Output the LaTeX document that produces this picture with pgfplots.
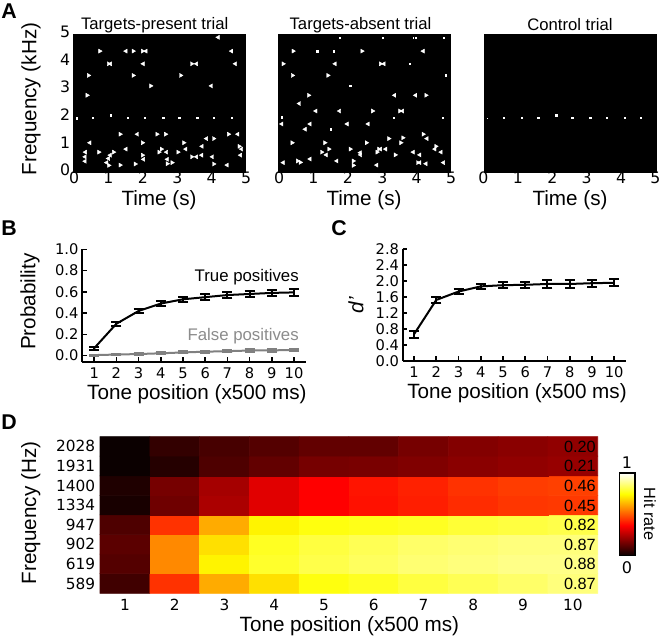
\documentclass[border=0pt]{standalone}
\usepackage{fontspec}
\setmainfont{Liberation Sans}
\newfontfamily\dv{DejaVu Sans}
\usepackage{pgfplots}
\usepackage{pgfplotstable}
\pgfplotsset{compat=1.18}
\pgfplotstableread{
x y v
1 1 .08
2 1 .44
3 1 .62
4 1 .70
5 1 .76
6 1 .78
7 1 .81
8 1 .83
9 1 .85
10 1 .87
1 2 .11
2 2 .57
3 2 .73
4 2 .79
5 2 .82
6 2 .84
7 2 .86
8 2 .87
9 2 .88
10 2 .88
1 3 .12
2 3 .57
3 3 .70
4 3 .78
5 3 .81
6 3 .83
7 3 .85
8 3 .86
9 3 .87
10 3 .87
1 4 .10
2 4 .44
3 4 .62
4 4 .73
5 4 .76
6 4 .77
7 4 .78
8 4 .80
9 4 .81
10 4 .82
1 5 .02
2 5 .15
3 5 .24
4 5 .32
5 5 .365
6 5 .39
7 5 .41
8 5 .43
9 5 .445
10 5 .45
1 6 .03
2 6 .16
3 6 .23
4 6 .32
5 6 .365
6 6 .395
7 6 .415
8 6 .44
9 6 .455
10 6 .46
1 7 0
2 7 .04
3 7 .10
4 7 .13
5 7 .16
6 7 .165
7 7 .175
8 7 .19
9 7 .20
10 7 .21
1 8 0
2 8 .06
3 8 .09
4 8 .11
5 8 .13
6 8 .13
7 8 .16
8 8 .18
9 8 .19
10 8 .20
}\hitrate
\pgfplotsset{
 colormap={hotm}{rgb(0pt)=(.0416,0,0) rgb(365pt)=(1,0,0) rgb(746pt)=(1,1,0) rgb(1000pt)=(1,1,1)},
 raster/.style={scale only axis,width=129pt,height=103.5pt,xmin=0,xmax=5,ymin=0,ymax=5,
  axis background/.style={fill=black},axis line style={black,line width=.6pt},
  xtick={0,1,2,3,4,5},xticklabels={0,1,2,3,4,5},
  major tick length=0pt,
  ticklabel style={font=\dv\fontsize{11.8}{12}\selectfont},
  xticklabel style={yshift=1pt,xshift=.8pt},
  yticklabel style={yshift=1.5pt,xshift=-1pt},
  tick label style={inner sep=1pt},
  xlabel={Time (s)},
  x label style={at={(axis description cs:.5,-.205)},anchor=center,font=\fontsize{15.5}{17}\selectfont},
 },
 rmark/.style={only marks,mark=triangle*,mark size=1.75pt,mark options={fill=white,draw=white,line width=.3pt,rotate=-90}},
 lmark/.style={only marks,mark=triangle*,mark size=1.75pt,mark options={fill=white,draw=white,line width=.3pt,rotate=90}},
 smark/.style={only marks,mark=square*,mark size=1.25pt,mark options={fill=white,draw=none}},
 curve/.style={scale only axis,axis x line=bottom,axis y line=left,
  axis line style={-,line width=1.5pt,black},tick align=inside,major tick length=3.5pt,
  tick style={black,line width=1.2pt},
  xtick={1,...,10},xticklabels={1,2,3,4,5,6,7,8,9,10},
  xlabel={Tone position (x500 ms)},
  ticklabel style={font=\dv\fontsize{11}{12}\selectfont,inner sep=1pt},
  xticklabel style={yshift=-3pt},yticklabel style={xshift=-1.5pt},
  label style={font=\fontsize{15.5}{17}\selectfont},
 },
 ebar/.style={line width=1.5pt,mark=none,error bars/y dir=both,error bars/y explicit,
  error bars/error mark options={rotate=90,mark size=3.75pt,line width=1.5pt},
  error bars/error bar style={line width=1.5pt}},
}
\begin{document}
\begin{tikzpicture}
\path[use as bounding box,fill=white] (0,0) rectangle (495pt,477.75pt);
% ---- A1
\begin{axis}[raster,at={(54.75pt,348.75pt)},anchor=south west,
 ytick={0,1,2,3,4,5},yticklabels={0,1,2,3,4,5},
 ylabel={Frequency (kHz)},
 y label style={at={(axis description cs:-.244,.529)},anchor=center,font=\fontsize{15.5}{17}\selectfont}]
\addplot[rmark] coordinates {(.78,4.38)(1.75,4.38)(2.02,4.38)(1.03,3.92)(3.45,3.92)(.45,3.50)(1.75,3.50)(3.13,3.50)(2.26,3.12)(.41,2.78)(1.37,1.37)(2.69,1.37)(2.44,1.37)(4.09,1.21)(2.02,1.06)(3.22,1.06)(4.83,.93)(.75,.72)(1.18,.72)(3.05,.72)(2.5,.72)(2.02,.61)(3.45,.55)(1.37,.25)(1.81,.29)(2.88,.34)(2.74,.30)(4.09,.29)(2.57,.83)(4.52,1.37)(1.04,.24)};
\addplot[lmark] coordinates {(1.54,4.38)(2.12,4.38)(4.61,4.38)(1.09,3.92)(2.04,3.92)(3.59,3.92)(4.72,3.92)(4.02,3.12)(1.87,1.37)(4.79,1.37)(3.88,1.21)(.49,1.06)(3.75,.93)(4.90,.83)(1.54,.83)(3.28,.83)(.36,.72)(2.72,.72)(1.08,.61)(4.87,.61)(3.74,.61)(3.59,.55)(4.05,.55)(.35,.55)(1.03,.49)(2.05,.46)(.35,.39)(.98,.34)(2.74,.46)(4.48,.25)(4.22,4.88)};
\addplot[smark] coordinates {(.11,1.95)(.58,1.97)(1.09,2.06)(1.60,1.97)(2.09,1.97)(2.62,1.97)(3.09,1.97)(3.61,1.97)(4.09,1.97)(4.61,1.97)};
\end{axis}
% ---- A2
\begin{axis}[raster,at={(208.5pt,348.75pt)},anchor=south west,ytick=\empty]
\addplot[rmark] coordinates {(.44,4.38)(2.44,4.38)(.15,3.92)(2.98,3.92)(.42,3.50)(1.45,3.50)(.89,2.78)(4.30,2.78)(1.36,1.06)(.41,1.06)(2.57,1.06)(3.54,2.21)(2.75,2.21)(3.22,1.21)(3.57,1.06)(4.59,.93)(1.48,.83)(2.93,.83)(2.10,.83)(1.27,.72)(2.88,.72)(3.41,.62)(.57,.40)(.65,.35)(4.06,.34)(2.19,.40)(2.19,.24)(4.22,1.37)(3.63,1.24)};
\addplot[lmark] coordinates {(4.22,4.38)(1.66,3.92)(3.08,3.92)(3.39,2.78)(4.0,2.78)(.62,2.48)(1.10,2.21)(1.79,2.21)(3.62,2.21)(.11,1.74)(.93,1.74)(2.01,1.74)(2.62,1.74)(.79,1.55)(4.33,1.21)(4.56,.83)(3.13,.83)(2.39,.70)(3.93,.72)(4.74,.72)(1.40,.62)(2.40,.62)(4.12,.62)(.93,.47)(.15,.34)(1.71,.40)(4.30,.30)(4.81,.34)(4.12,.34)(2.87,.25)(2.98,.83)};
\addplot[smark] coordinates {(1.79,4.87)(3.05,4.87)(3.94,4.87)(4.0,4.87)(4.82,4.87)(1.14,4.38)(1.62,4.38)(3.83,3.92)(4.88,3.50)(2.10,3.12)(.11,1.98)(3.36,1.97)(4.78,1.97)(1.53,1.55)};
\end{axis}
% ---- A3
\begin{axis}[raster,at={(363pt,348.75pt)},anchor=south west,ytick=\empty,
 xticklabel style={xshift=-1.2pt}]
\addplot[smark] coordinates {(.58,1.97)(1.09,1.97)(1.58,1.97)(2.10,2.06)(2.57,1.97)(3.09,1.97)(3.57,1.97)(4.09,1.97)(4.56,1.97)};
\addplot[only marks,mark=square*,mark size=.7pt,mark options={fill=white,draw=none}] coordinates {(.09,1.94)};
\end{axis}
% ---- B
\begin{axis}[curve,at={(61.5pt,206.25pt)},anchor=south west,width=168pt,height=84.5pt,
 xmin=.45,xmax=10.54,ymin=-.06,ymax=1,
 ytick={0,.2,.4,.6,.8,1},yticklabels={0.0,0.2,0.4,0.6,0.8,1.0},
 ylabel={Probability},
 x label style={at={(axis description cs:.513,-.284)},anchor=center},
 y label style={at={(axis description cs:-.232,.535)},anchor=center}]
\addplot[color=black!50,ebar] coordinates {
 (1,.005)+-(0,.005)(2,.01)+-(0,.006)(3,.015)+-(0,.007)(4,.022)+-(0,.008)(5,.03)+-(0,.009)
 (6,.037)+-(0,.01)(7,.042)+-(0,.012)(8,.048)+-(0,.013)(9,.05)+-(0,.013)(10,.052)+-(0,.013)};
\addplot[color=black,ebar] coordinates {
 (1,.07)+-(0,.015)(2,.30)+-(0,.02)(3,.42)+-(0,.02)(4,.49)+-(0,.025)(5,.53)+-(0,.025)
 (6,.55)+-(0,.03)(7,.57)+-(0,.03)(8,.58)+-(0,.03)(9,.59)+-(0,.03)(10,.595)+-(0,.03)};
\end{axis}
% ---- C
\begin{axis}[curve,at={(302pt,207pt)},anchor=south west,width=167.5pt,height=83.8pt,
 xmin=.49,xmax=10.53,ymin=0,ymax=2.8,
 ytick={0,.4,.8,1.2,1.6,2,2.4,2.8},yticklabels={0.0,0.4,0.8,1.2,1.6,2.0,2.4,2.8},
 ylabel={\textit{d'}},
 x label style={at={(axis description cs:.512,-.286)},anchor=center},
 y label style={at={(axis description cs:-.209,.50)},anchor=center}]
\addplot[color=black,ebar] coordinates {
 (1,.67)+-(0,.09)(2,1.53)+-(0,.07)(3,1.74)+-(0,.06)(4,1.87)+-(0,.07)(5,1.90)+-(0,.08)
 (6,1.91)+-(0,.08)(7,1.93)+-(0,.09)(8,1.93)+-(0,.10)(9,1.95)+-(0,.09)(10,1.96)+-(0,.09)};
\end{axis}
% ---- D
\begin{axis}[scale only axis,at={(75pt,32.8pt)},anchor=south west,width=373.3pt,height=117.5pt,
 xmin=.5,xmax=10.5,ymin=.5,ymax=8.5,axis line style={draw=none},
 major tick length=0pt,
 xtick={1,...,10},xticklabels={1,2,3,4,5,6,7,8,9,10},
 ytick={1,...,8},yticklabels={589,619,902,947,1334,1400,1931,2028},
 ticklabel style={font=\dv\fontsize{11.5}{12}\selectfont,inner sep=1pt},
 xticklabel style={yshift=-3pt},yticklabel style={xshift=-2.5pt},
 xlabel={Tone position (x500 ms)},ylabel={Frequency (Hz)},
 label style={font=\fontsize{15.5}{17}\selectfont},
 x label style={at={(axis description cs:.501,-.209)},anchor=center},
 y label style={at={(axis description cs:-.139,.513)},anchor=center},
 colormap name=hotm,point meta min=0,point meta max=1,
 colorbar,
 colorbar style={at={(1.0434,.24)},anchor=south west,width=11.8pt,height=62pt,
  ytick=\empty,axis line style={draw=black,line width=.9pt},ylabel={}},
 clip=false]
\addplot[matrix plot*,mesh/cols=10,point meta=explicit,draw=none] table[x=x,y=y,meta=v] {\hitrate};
\end{axis}
% ---- free text, in px from top left
\begin{scope}[x=.75pt,y=-.75pt,yshift=477.75pt]
\foreach \yy/\vv in {446.5/0.20,466/0.21,486/0.46,505.5/0.45,525/0.82,544.5/0.87,564/0.88,583.5/0.87}
 \node[anchor=east,inner sep=0pt,font=\fontsize{12.2}{13}\selectfont] at (596,\yy) {\vv};
\node[font=\fontsize{12.5}{14}\selectfont] at (154.7,25) {Targets-present trial};
\node[font=\fontsize{12.5}{14}\selectfont] at (360.5,25) {Targets-absent trial};
\node[font=\fontsize{12.5}{14}\selectfont] at (570,25) {Control trial};
\node[anchor=east,font=\fontsize{12.6}{15}\selectfont] at (303.4,276.7) {True positives};
\node[anchor=east,font=\fontsize{12.6}{15}\selectfont,text=black!45] at (303.4,336) {False positives};
\node[font=\dv\fontsize{12}{13}\selectfont] at (627,463) {1};
\node[font=\dv\fontsize{12}{13}\selectfont] at (627,568) {0};
\node[rotate=-90,font=\fontsize{12.2}{13}\selectfont] at (650,514) {Hit rate};
\foreach \l/\xx/\yy in {A/9/11,B/9/228.5,C/339/228,D/9/422}
 \node[font=\bfseries\fontsize{16}{17}\selectfont] at (\xx,\yy) {\l};
\end{scope}
\end{tikzpicture}
\end{document}
